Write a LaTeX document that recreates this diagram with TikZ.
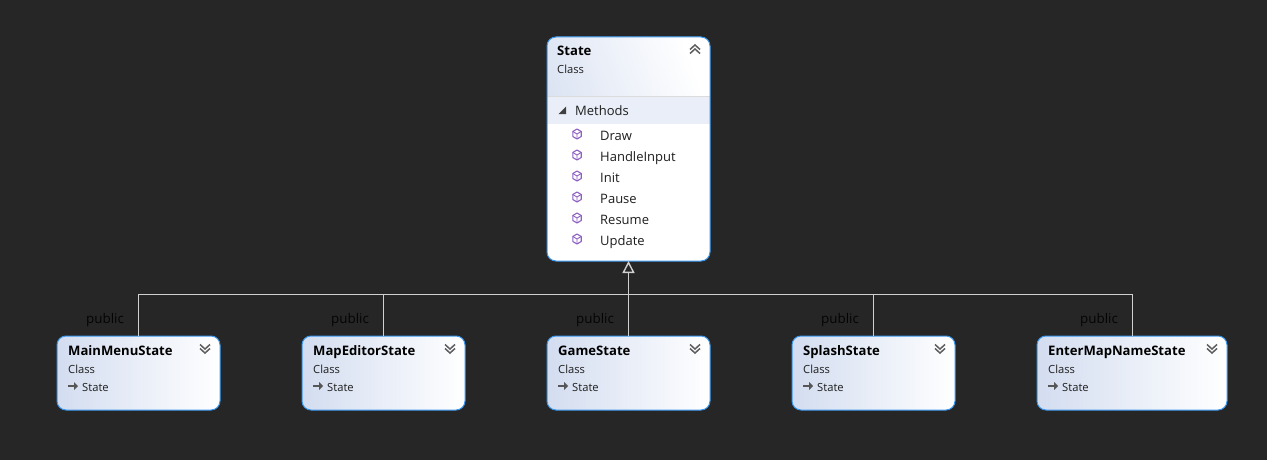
\documentclass[tikz,border=0pt]{standalone}
\usepackage{fontspec}
\setmainfont{Open Sans}
\usetikzlibrary{arrows.meta}

\definecolor{canvasgray}{HTML}{262626}
\definecolor{edgeblue}{HTML}{3A97EE}
\definecolor{headblue}{HTML}{D3DDF0}
\definecolor{bandblue}{HTML}{EAEEF8}
\definecolor{linegray}{HTML}{D0D0D0}
\definecolor{textgray}{HTML}{1E1E1E}
\definecolor{chevgray}{HTML}{5E5E5E}
\definecolor{cubepurple}{HTML}{8E5FC2}

\tikzset{
  classbox/.style={draw=edgeblue, line width=1pt, rounded corners=9pt, inner sep=0pt, outer sep=0pt},
  titletext/.style={anchor=base west, inner sep=0pt, font=\fontsize{13.1}{15}\selectfont\bfseries, text=black},
  subtext/.style={anchor=base west, inner sep=0pt, font=\fontsize{11.2}{13}\selectfont, text=textgray},
  itemtext/.style={anchor=base west, inner sep=0pt, font=\fontsize{13}{15}\selectfont, text=textgray},
  roletext/.style={anchor=base, inner sep=0pt, font=\fontsize{13.4}{15}\selectfont, text=black!90!canvasgray},
  inherit/.style={draw=linegray, line width=1pt},
  chevup/.pic={
    \draw[chevgray, line width=1.5pt] (-5,0.5) -- (0,-4) -- (5,0.5);
    \draw[chevgray, line width=1.5pt] (-5,4.5) -- (0,0) -- (5,4.5);
  },
  chevdown/.pic={
    \draw[chevgray, line width=1.5pt] (-5,-4.5) -- (0,0) -- (5,-4.5);
    \draw[chevgray, line width=1.5pt] (-5,-0.5) -- (0,4) -- (5,-0.5);
  },
  cubeicon/.pic={
    \draw[cubepurple, line width=1.1pt, line join=round] (0,-5) -- (4.2,-2.5) -- (4.2,2.5) -- (0,5) -- (-4.2,2.5) -- (-4.2,-2.5) -- cycle;
    \draw[cubepurple, line width=0.9pt] (-4.2,-2.5) -- (0,0) -- (4.2,-2.5) (0,0) -- (0,5);
  },
  baseicon/.pic={
    \draw[textgray!75, line width=1.1pt] (-5,0) -- (3,0);
    \fill[textgray!75] (5,0) -- (1,-4) -- (1,4) -- cycle;
  },
}

\begin{document}
\begin{tikzpicture}[x=1pt,y=-1pt]
  \useasboundingbox[fill=canvasgray] (0,0) rectangle (1267,460);

  % parent class
  \node[classbox, fill=white, minimum width=163pt, minimum height=224pt,
    path picture={
      \shade[sharp corners, left color=headblue, right color=white, shading angle=110]
        (path picture bounding box.north west) rectangle ([yshift=-59pt]path picture bounding box.north east);
      \fill[sharp corners, bandblue] ([yshift=-60pt]path picture bounding box.north west) rectangle ([yshift=-87pt]path picture bounding box.north east);
      \draw[black!14, line width=0.7pt] ([yshift=-59.5pt]path picture bounding box.north west) -- ([yshift=-59.5pt]path picture bounding box.north east);
    }] (state) at (628.5,149) {};
  \node[titletext] (statetitle) at (557,56) {State};
  \node[subtext] (statekind) at (557,73.5) {Class};
  \pic at (695,49) {chevup};

  % methods compartment
  \fill[textgray!85] (566,106.5) -- (566,114) -- (558.5,114) -- cycle;
  \node[itemtext] (methods) at (575,115) {Methods};
  \foreach \id/\my/\label in {draw/135/Draw, input/156/HandleInput, init/177/Init, pause/198/Pause, resume/219/Resume, update/240/Update} {
    \pic at (577,\my-1) {cubeicon};
    \node[itemtext] (\id) at (600,\my+5) {\label};
  }

  % trunk of the inheritance tree
  \coordinate (trunk) at (628.5,294.5);
  \draw[inherit, line width=1.4pt, -{Triangle[open, fill=canvasgray, length=12pt, width=12pt]}] (trunk) -- (state.south);

  % derived classes
  \foreach \id/\cx/\bw/\title/\labx in {mainmenu/138.5/163/MainMenuState/105, mapeditor/383.5/163/MapEditorState/350, game/628.5/163/GameState/595, splash/873.5/163/SplashState/840, entermap/1132/190/EnterMapNameState/1099} {
    \node[classbox, left color=headblue, right color=white, minimum width=\bw pt, minimum height=74pt] (\id) at (\cx,373) {};
    \draw[inherit] (\id.north) |- (trunk);
    \node[roletext] (\id role) at (\labx,323) {public};
    \node[titletext] (\id title) at (\cx-\bw/2+11,355.5) {\title};
    \node[subtext] (\id kind) at (\cx-\bw/2+11,373) {Class};
    \pic at (\cx-\bw/2+16,386) {baseicon};
    \node[subtext] (\id base) at (\cx-\bw/2+25,391) {State};
    \pic at (\cx+\bw/2-15,349) {chevdown};
  }
\end{tikzpicture}
\end{document}
